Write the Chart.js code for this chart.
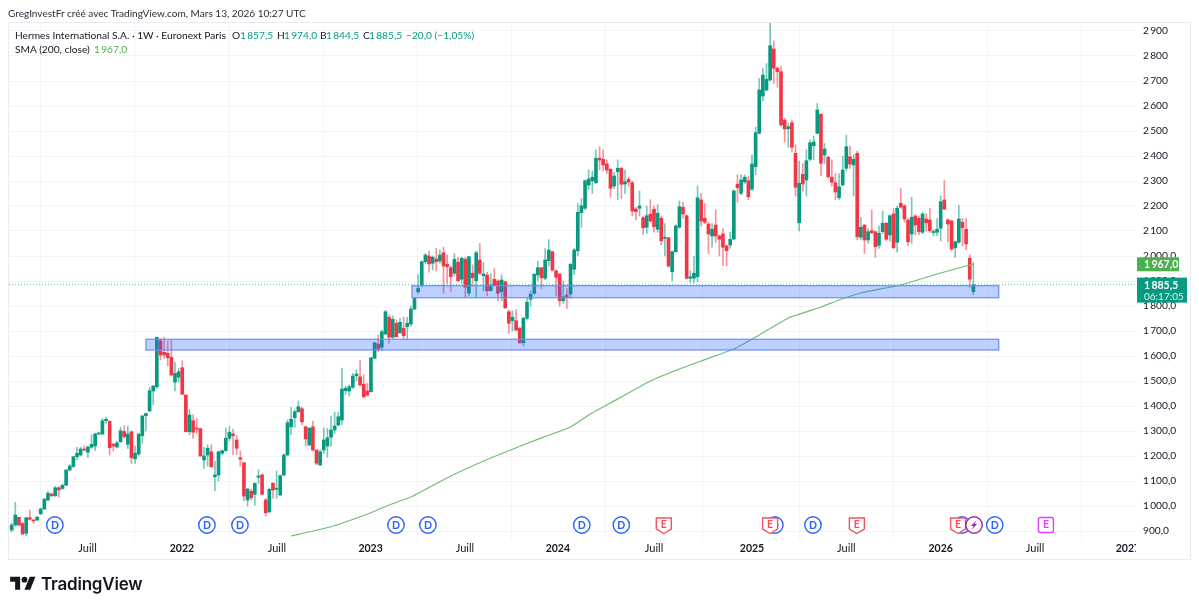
<!DOCTYPE html>
<html lang="fr">
<head>
<meta charset="utf-8">
<title>Hermes International - 1W</title>
<script src="https://cdn.jsdelivr.net/npm/chart.js@4/dist/chart.umd.min.js"></script>
<style>
    body { margin: 0; background: #fff; font-family: Lato, sans-serif; color: #131722; }
    #wrap { position: relative; width: 1199px; height: 609px; overflow: hidden; }
    canvas { display: block; position: absolute; left: 0; top: 0; }
    .txt { position: absolute; white-space: pre; font-size: 10.2px; line-height: 14px; }
    .up { color: #089981; }
    #frame { position: absolute; left: 8px; top: 22px; width: 1181px; height: 536px; border: 1px solid #e9ebf0; }
    #logoText { position: absolute; left: 41px; top: 574px; font: 600 17px Inter, sans-serif; letter-spacing: -0.2px; color: #131722; }
</style>
</head>
<body>
<div id="wrap">
    <canvas id="chart" width="1199" height="609"></canvas>
    <div id="frame"></div>
    <div class="txt" style="left:8px;top:6px;color:#2a2e39;font-size:10.05px">GregInvestFr créé avec TradingView.com, Mars 13, 2026 10:27 UTC</div>
    <div class="txt" style="left:15px;top:28px">Hermes International S.A. · 1W · Euronext Paris</div>
    <div class="txt" style="left:232px;top:28px">O</div>
    <div class="txt up" style="left:240px;top:28px">1&thinsp;857,5</div>
    <div class="txt" style="left:277px;top:28px">H</div>
    <div class="txt up" style="left:284px;top:28px">1&thinsp;974,0</div>
    <div class="txt" style="left:320px;top:28px">B</div>
    <div class="txt up" style="left:326px;top:28px">1&thinsp;844,5</div>
    <div class="txt" style="left:363px;top:28px">C</div>
    <div class="txt up" style="left:369px;top:28px">1&thinsp;885,5</div>
    <div class="txt up" style="left:406px;top:28px">−20,0 (−1,05%)</div>
    <div class="txt" style="left:15px;top:42px">SMA (200, close)</div>
    <div class="txt" style="left:94px;top:42px;color:#4caf50">1&thinsp;967,0</div>
    <svg style="position:absolute;left:10px;top:574px" width="26" height="20" viewBox="0 0 36 28">
        <path fill="#131722" d="M14 22H7V11H0V4h14v18zM28 22h-8l7.5-18h8L28 22z"/>
        <circle fill="#131722" cx="20" cy="8" r="4"/>
    </svg>
    <div id="logoText">TradingView</div>
</div>

<script>
// DATA (prices, one entry per weekly bar)

const opens = [
    904,924,955,930,891,953,944,944,969,988,
    1024,1048,1041,1073,1070,1083,1144,1158,1197,1204,
    1228,1215,1235,1240,1288,1288,1341,1339,1247,1236,
    1257,1298,1247,1297,1189,1208,1281,1361,1380,1460,
    1477,1661,1615,1611,1595,1495,1515,1553,1444,1297,
    1341,1312,1309,1184,1204,1217,1117,1124,1211,1221,
    1271,1288,1264,1193,1173,1024,1059,1047,1115,1124,
    1024,977,1091,1067,1044,1124,1204,1317,1353,1377,
    1389,1317,1244,1317,1224,1164,1224,1240,1275,1304,
    1324,1344,1461,1460,1475,1521,1517,1487,1460,1457,
    1591,1648,1635,1688,1755,1675,1731,1693,1711,1717,
    1728,1788,1857,1884,1977,2000,1971,1988,1980,2013,
    1967,1953,1931,1975,1907,1987,1851,1931,1901,1984,
    1921,1924,1861,1907,1900,1857,1897,1777,1741,1741,
    1711,1653,1751,1827,1851,1924,1953,1911,1981,2017,
    1941,1928,1821,1844,1848,1947,2021,2173,2191,2284,
    2301,2293,2391,2387,2368,2347,2280,2337,2351,2288,
    2307,2293,2188,2191,2153,2115,2167,2187,2107,2151,
    2071,2073,1937,2017,2115,2195,2161,1911,1911,1917,
    2224,2151,2128,2080,2124,2080,2088,2040,2044,2068,
    2287,2251,2296,2301,2267,2357,2491,2640,2664,2704,
    2828,2751,2737,2544,2509,2533,2411,2133,2327,2304,
    2387,2441,2491,2567,2404,2395,2315,2293,2233,2284,
    2351,2397,2364,2411,2075,2124,2064,2101,2097,2043,
    2097,2131,2084,2168,2055,2211,2201,2144,2088,2160,
    2151,2095,2148,2144,2094,2095,2111,2224,2144,2140,
    2033,2055,2135,2107,1991,1857.5
];
const highs = [
    931,1015,955,935,955,984,946,960,992,1032,
    1060,1052,1078,1078,1086,1146,1166,1200,1235,1235,
    1240,1240,1285,1292,1295,1350,1355,1340,1250,1260,
    1315,1320,1320,1300,1240,1290,1362,1372,1475,1482,
    1675,1670,1675,1660,1665,1575,1550,1580,1444,1387,
    1365,1350,1312,1235,1245,1245,1180,1220,1224,1312,
    1318,1308,1282,1220,1173,1070,1068,1092,1145,1130,
    1030,1070,1094,1140,1125,1210,1345,1395,1385,1420,
    1395,1320,1315,1340,1225,1225,1312,1310,1360,1375,
    1375,1552,1480,1485,1530,1545,1582,1525,1490,1595,
    1655,1684,1704,1782,1765,1760,1745,1750,1755,1755,
    1800,1835,1925,1980,2010,2020,2000,2030,2025,2035,
    2005,1960,2010,1995,1995,1995,2000,1965,2020,2050,
    1975,1935,1930,1950,1905,1925,1900,1785,1780,1785,
    1715,1755,1835,1860,1930,1980,1955,2030,2065,2020,
    1945,1930,1900,1870,1970,2030,2210,2230,2305,2345,
    2340,2425,2437,2425,2385,2350,2335,2385,2355,2345,
    2315,2300,2195,2260,2160,2200,2225,2200,2205,2160,
    2130,2075,2020,2125,2220,2215,2165,1940,2000,2280,
    2250,2210,2135,2130,2185,2085,2110,2045,2095,2265,
    2325,2325,2325,2320,2404,2515,2710,2750,2770,2932,
    2860,2755,2760,2550,2530,2545,2445,2380,2370,2425,
    2465,2480,2610,2570,2450,2400,2385,2330,2330,2400,
    2483,2440,2405,2420,2155,2125,2110,2184,2100,2120,
    2180,2135,2165,2190,2200,2270,2205,2150,2235,2165,
    2160,2175,2170,2190,2105,2150,2240,2302,2150,2145,
    2060,2203,2150,2150,2005,1974
];
const lows = [
    897,920,920,885,880,944,931,941,966,986,
    1020,1038,1038,1035,1066,1083,1140,1155,1185,1200,
    1218,1194,1230,1222,1285,1285,1330,1204,1220,1232,
    1255,1270,1230,1170,1170,1200,1250,1300,1378,1405,
    1470,1585,1590,1560,1520,1460,1495,1445,1295,1285,
    1270,1290,1199,1150,1160,1155,1060,1100,1205,1220,
    1262,1205,1205,1160,1020,1000,1025,1003,1090,1045,
    960,972,1030,1030,1040,1120,1200,1285,1315,1375,
    1325,1240,1240,1220,1165,1162,1210,1195,1238,1290,
    1320,1325,1445,1440,1470,1500,1480,1432,1440,1455,
    1590,1617,1620,1685,1650,1670,1675,1690,1665,1665,
    1720,1785,1850,1875,1970,1935,1945,1940,1970,1850,
    1890,1858,1920,1898,1890,1835,1840,1880,1835,1925,
    1860,1840,1860,1880,1820,1820,1790,1690,1700,1700,
    1650,1640,1745,1800,1845,1900,1870,1905,1960,1940,
    1840,1800,1810,1790,1830,1925,2000,2115,2185,2265,
    2250,2290,2345,2340,2330,2235,2270,2225,2230,2250,
    2280,2160,2145,2160,2085,2090,2135,2095,2095,2045,
    2000,1955,1900,2015,2110,2150,1908,1895,1892,1897,
    2120,2130,2010,2035,2055,2000,1962,1960,2030,2065,
    2215,2245,2290,2225,2262,2325,2488,2620,2660,2700,
    2690,2675,2520,2455,2435,2415,2240,2100,2260,2240,
    2380,2385,2488,2320,2370,2310,2280,2225,2225,2280,
    2340,2350,2240,2065,2065,2010,2050,2090,1995,2030,
    2090,2060,2060,2030,2015,2190,2135,2040,2050,2085,
    2085,2090,2100,2095,2080,2080,2060,2185,2055,2020,
    1995,2050,2040,2025,1875,1844.5
];
const closes = [
    924,964,924,888,953,947,940,955,988,1027,
    1051,1041,1073,1064,1083,1144,1160,1197,1211,1228,
    1224,1236,1247,1288,1288,1341,1347,1233,1240,1253,
    1301,1277,1288,1193,1211,1288,1360,1370,1461,1480,
    1675,1604,1604,1593,1524,1530,1537,1447,1297,1364,
    1295,1308,1200,1200,1231,1157,1124,1217,1221,1271,
    1295,1281,1231,1187,1040,1068,1033,1091,1120,1047,
    973,1067,1064,1071,1121,1204,1333,1347,1377,1397,
    1337,1268,1311,1224,1171,1217,1264,1273,1304,1320,
    1357,1468,1471,1477,1520,1528,1484,1437,1444,1593,
    1653,1627,1697,1777,1675,1747,1677,1735,1681,1731,
    1788,1831,1871,1977,2004,1968,1995,1977,2004,1960,
    1957,1917,1987,1901,1991,1875,1997,1913,2013,1931,
    1928,1861,1884,1884,1851,1904,1793,1731,1755,1704,
    1653,1751,1815,1847,1927,1953,1913,1984,2024,1944,
    1915,1821,1837,1833,1967,2024,2175,2201,2301,2308,
    2315,2391,2384,2364,2344,2271,2320,2351,2287,2297,
    2296,2180,2177,2200,2113,2161,2140,2117,2171,2061,
    2075,1960,2017,2120,2197,2168,1911,1917,1931,2233,
    2140,2135,2088,2107,2080,2067,2035,2021,2067,2260,
    2273,2304,2315,2237,2368,2493,2664,2724,2707,2841,
    2751,2737,2524,2508,2517,2435,2275,2291,2288,2381,
    2453,2456,2584,2371,2428,2317,2295,2256,2277,2344,
    2437,2368,2387,2077,2115,2064,2097,2093,2037,2091,
    2131,2067,2161,2033,2191,2195,2148,2057,2155,2124,
    2097,2168,2133,2101,2097,2107,2217,2188,2128,2028,
    2057,2148,2113,2048,1907,1885.5
];

// SMA 200, read at a few bars only
const smaBars = [77,88,99,104,110,121,132,143,154,159,165,176,184,190,199,206,214,223,228,234,245,256,264,265];
const smaValues = [880,917,973,1004,1036,1120,1192,1256,1316,1364,1412,1500,1548,1580,1628,1684,1752,1796,1824,1852,1884,1932,1964,1967];

// Axis labels
const priceTicks = [900,1000,1100,1200,1300,1400,1500,1600,1700,1800,1900,2000,2100,2200,2300,2400,2500,2600,2700,2800,2900];
const priceLabels = ["900,0","1\u2009000,0","1\u2009100,0","1\u2009200,0","1\u2009300,0","1\u2009400,0","1\u2009500,0","1\u2009600,0","1\u2009700,0","1\u2009800,0","1\u2009900,0","2\u2009000,0","2\u2009100","2\u2009200","2\u2009300","2\u2009400","2\u2009500","2\u2009600","2\u2009700","2\u2009800","2\u2009900"];
const timeTicks = [20.9,46.9,73.1,98.9,124.9,150.5,177,204,230,256,282,307.6];
const timeLabels = ["Juill","2022","Juill","2023","Juill","2024","Juill","2025","Juill","2026","Juill","2027"];

// Support zones [first bar, last bar, top price, bottom price]
const zoneLow = [37, 272, 1667, 1624];
const zoneHigh = [110.3, 272, 1881, 1833];

// Events along the bottom
const eventPrice = 924;
const dividendBars = [11.9,53.8,62.9,105.9,114.7,157.1,168,210.3,220.8,261.9,270.9];
const earningsBars = [179.7,209,232.9,260.8];
const nextEarningsBar = 285;
const flashBar = 265.2;

const lastClose = 1885.5;
const lastSma = 1967;
const lastCloseLabel = "1\u2009885,5";
const lastSmaLabel = "1\u2009967,0";
const countdown = "06:17:05";

const GREEN = "#089981";
const RED = "#f23645";
const FONT = 'Lato, sans-serif';
const bars = closes.map((c, i) => i);


// HELPERS

function candleColor(i, alpha) {
    const up = closes[i] >= opens[i];
    if (alpha) return up ? "rgba(8,153,129,0.55)" : "rgba(242,54,69,0.55)";
    return up ? GREEN : RED;
}

function drawZone(chart, zone) {
    const { x, y } = chart.scales;
    const { ctx } = chart;
    const left = x.getPixelForValue(zone[0]);
    const right = x.getPixelForValue(zone[1]);
    const top = y.getPixelForValue(zone[2]);
    const bottom = y.getPixelForValue(zone[3]);
    ctx.fillStyle = "rgba(41,98,255,0.3)";
    ctx.fillRect(left, top, right - left, bottom - top);
    ctx.strokeStyle = "#6b8df5";
    ctx.lineWidth = 1.2;
    ctx.strokeRect(left, top, right - left, bottom - top);
}

function drawCircleEvent(ctx, cx, cy, color, letter) {
    ctx.beginPath();
    ctx.arc(cx, cy, 8.2, 0, Math.PI * 2);
    ctx.fillStyle = "#fff";
    ctx.fill();
    ctx.strokeStyle = color;
    ctx.lineWidth = 1.4;
    ctx.stroke();
    if (letter) {
        ctx.fillStyle = color;
        ctx.font = "700 10.5px " + FONT;
        ctx.fillText(letter, cx, cy + 0.5);
    }
}

function drawEarnings(ctx, cx, cy) {
    ctx.beginPath();
    ctx.moveTo(cx - 7.5, cy - 7);
    ctx.lineTo(cx + 7.5, cy - 7);
    ctx.lineTo(cx + 7.5, cy + 4);
    ctx.lineTo(cx, cy + 8.5);
    ctx.lineTo(cx - 7.5, cy + 4);
    ctx.closePath();
    ctx.fillStyle = "#fff";
    ctx.fill();
    ctx.strokeStyle = "#f4525f";
    ctx.lineWidth = 1.4;
    ctx.stroke();
    ctx.fillStyle = "#f4525f";
    ctx.font = "700 10.5px " + FONT;
    ctx.fillText("E", cx, cy - 0.5);
}

function drawFlash(ctx, cx, cy) {
    drawCircleEvent(ctx, cx, cy, "#9c27b0", "");
    ctx.fillStyle = "#9c27b0";
    ctx.beginPath();
    ctx.moveTo(cx + 2.5, cy - 5);
    ctx.lineTo(cx - 3, cy + 1);
    ctx.lineTo(cx - 0.5, cy + 1);
    ctx.lineTo(cx - 2.5, cy + 5);
    ctx.lineTo(cx + 3, cy - 1);
    ctx.lineTo(cx + 0.5, cy - 1);
    ctx.closePath();
    ctx.fill();
}

function drawPriceBox(ctx, left, right, top, bottom, color, lines) {
    ctx.fillStyle = color;
    ctx.fillRect(left, top, right - left, bottom - top);
    ctx.fillStyle = "#fff";
    ctx.font = "700 10.5px " + FONT;
    ctx.textAlign = "left";
    lines.forEach((l, i) => {
        ctx.fillText(l, left + 7, top + 7.5 + i * 11.5);
        ctx.font = "10px " + FONT;
        ctx.fillStyle = "rgba(255,255,255,0.85)";
    });
}


// OVERLAYS (zones, last price line, events, price labels)

const overlays = {
    id: "overlays",
    afterDatasetsDraw(chart) {
        const { ctx } = chart;
        const { x, y } = chart.scales;
        ctx.save();

        drawZone(chart, zoneLow);
        drawZone(chart, zoneHigh);

        // last price line
        ctx.strokeStyle = "rgba(8,153,129,0.65)";
        ctx.lineWidth = 1;
        ctx.setLineDash([1, 2]);
        ctx.beginPath();
        ctx.moveTo(chart.chartArea.left, y.getPixelForValue(lastClose));
        ctx.lineTo(chart.chartArea.right, y.getPixelForValue(lastClose));
        ctx.stroke();
        ctx.setLineDash([]);

        // events
        ctx.textAlign = "center";
        ctx.textBaseline = "middle";
        const cy = y.getPixelForValue(eventPrice);
        dividendBars.forEach(b => drawCircleEvent(ctx, x.getPixelForValue(b), cy, "#2962ff", "D"));
        earningsBars.forEach(b => drawEarnings(ctx, x.getPixelForValue(b), cy));
        drawFlash(ctx, x.getPixelForValue(flashBar), cy);

        const nx = x.getPixelForValue(nextEarningsBar);
        ctx.fillStyle = "#fff";
        ctx.strokeStyle = "#e040fb";
        ctx.lineWidth = 1.4;
        ctx.beginPath();
        ctx.roundRect(nx - 7.5, cy - 7.5, 15, 15, 2);
        ctx.fill();
        ctx.stroke();
        ctx.fillStyle = "#e040fb";
        ctx.font = "700 10.5px " + FONT;
        ctx.fillText("E", nx, cy);

        ctx.restore();
    },
    afterDraw(chart) {
        const { ctx } = chart;
        const { y } = chart.scales;
        ctx.save();

        // the 2027 label is cut by the price axis
        ctx.fillStyle = "#fff";
        ctx.fillRect(chart.chartArea.right, chart.chartArea.bottom + 1, 12, 17);

        ctx.textBaseline = "middle";
        const smaY = y.getPixelForValue(lastSma);
        drawPriceBox(ctx, 1137, 1179, smaY - 7, smaY + 7, "#4caf50", [lastSmaLabel]);
        const lastY = y.getPixelForValue(lastClose);
        drawPriceBox(ctx, 1137, 1187, lastY - 7, lastY + 18, GREEN, [lastCloseLabel, countdown]);
        ctx.restore();
    }
};


// CHART

new Chart(document.getElementById("chart").getContext("2d"), {
    type: "bar",
    data: {
        datasets: [
            {
                type: "line",
                label: "SMA (200, close)",
                data: smaBars.map((b, i) => ({ x: b, y: smaValues[i] })),
                borderColor: "#6cbf70",
                borderWidth: 1.2,
                pointRadius: 0,
                tension: 0.1,
                order: 0
            },
            {
                label: "Body",
                data: bars.map(i => ({ x: i, y: [opens[i], closes[i]] })),
                backgroundColor: bars.map(i => candleColor(i)),
                barThickness: 3,
                minBarLength: 1,
                order: 1
            },
            {
                label: "Wick",
                data: bars.map(i => ({ x: i, y: [lows[i], highs[i]] })),
                backgroundColor: bars.map(i => candleColor(i, true)),
                barThickness: 1,
                order: 2
            }
        ]
    },
    options: {
        responsive: false,
        animation: false,
        layout: { padding: { left: 9, top: 22 } },
        plugins: { legend: { display: false }, tooltip: { enabled: false } },
        scales: {
            x: {
                type: "linear",
                stacked: true,
                offset: false,
                min: -0.74,
                max: 309.82,
                grid: { color: "#f3f4f7", drawTicks: false },
                border: { display: false },
                afterBuildTicks: axis => { axis.ticks = timeTicks.map(v => ({ value: v })); },
                afterFit: axis => { axis.height = 69; },
                ticks: {
                    autoSkip: false,
                    maxRotation: 0,
                    padding: 2,
                    color: "#131722",
                    font: c => {
                        const label = timeLabels[c.index];
                        return { family: FONT, size: label === "Juill" ? 11 : 10.5, weight: label === "Juill" ? "400" : "700" };
                    },
                    callback: (v, i) => timeLabels[i]
                }
            },
            y: {
                position: "right",
                stacked: false,
                min: 864,
                max: 2936,
                grid: { color: "#f3f4f7", drawTicks: false },
                border: { display: false },
                afterBuildTicks: axis => { axis.ticks = priceTicks.map(v => ({ value: v })); },
                afterFit: axis => { axis.width = 63; },
                ticks: {
                    autoSkip: false,
                    crossAlign: "near",
                    padding: 7,
                    color: "#131722",
                    font: { family: FONT, size: 10.2 },
                    callback: (v, i) => priceLabels[i]
                }
            }
        }
    },
    plugins: [overlays]
});
</script>
</body>
</html>
